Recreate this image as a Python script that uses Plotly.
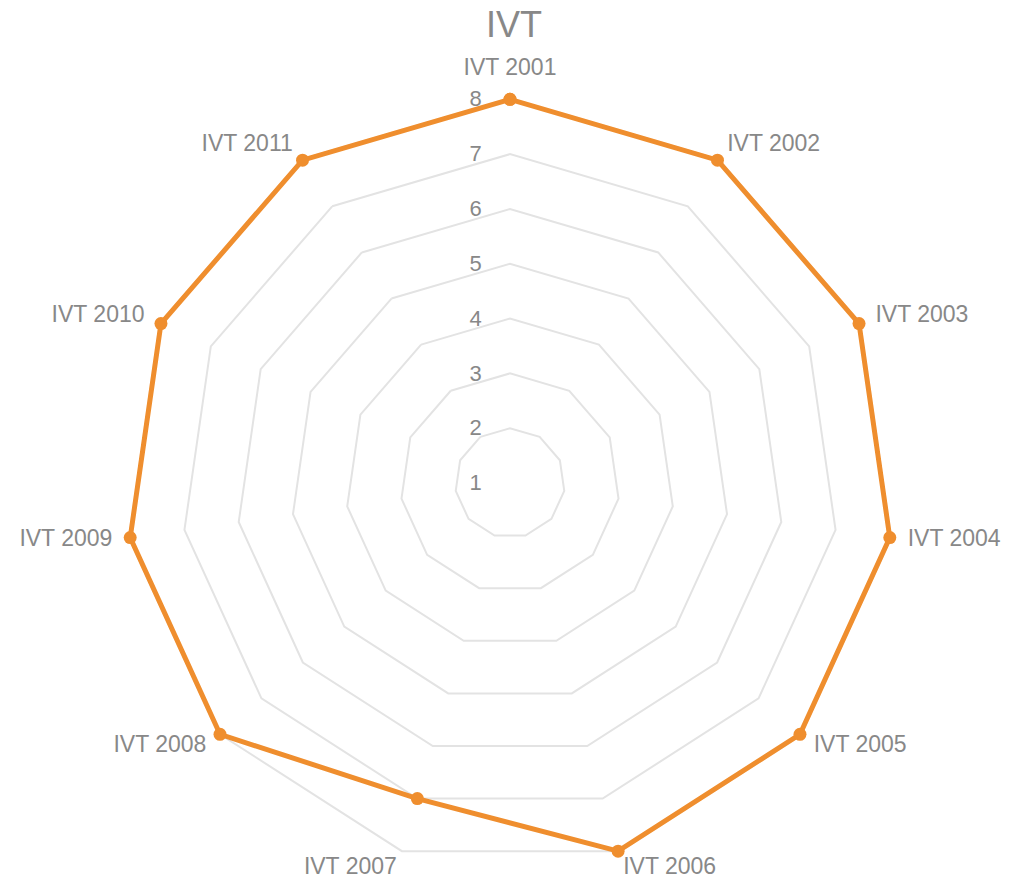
import plotly.graph_objects as go

categories = ["IVT 2001", "IVT 2002", "IVT 2003", "IVT 2004", "IVT 2005", "IVT 2006",
              "IVT 2007", "IVT 2008", "IVT 2009", "IVT 2010", "IVT 2011"]
values = [8, 8, 8, 8, 8, 8, 7, 8, 8, 8, 8]
radial_ticks = [1, 2, 3, 4, 5, 6, 7, 8]

# styling / layout constants
LABEL_R = 8.33
label_positions = ["top center"] + ["middle right"] * 5 + ["middle left"] * 5
font_color = "#888888"
orange = "#EF8E2E"
FONT = "Liberation Sans, Arial, sans-serif"
W, H = 1012, 881

fig = go.Figure()
fig.add_trace(go.Scatterpolar(
    r=values + values[:1],
    theta=categories + categories[:1],
    mode="lines+markers",
    line=dict(color=orange, width=5),
    marker=dict(color=orange, size=13),
    cliponaxis=False,
    showlegend=False,
    subplot="polar",
))
# category labels, drawn in an invisible, larger polar with the same scale
fig.add_trace(go.Scatterpolar(
    r=[LABEL_R] * len(categories),
    theta=categories,
    mode="text",
    text=categories,
    textposition=label_positions,
    textfont=dict(size=23, color=font_color, family=FONT),
    cliponaxis=False,
    hoverinfo="skip",
    showlegend=False,
    subplot="polar2",
))

# domain of main polar (pixels) and of label polar
c_x, c_y = 502, 475
d1, d2 = 774, 808
r1_max = 8.06
r2_max = 1 + (r1_max - 1) * d2 / d1


def dom(cx, cy, d):
    return dict(x=[(cx - d / 2) / W, (cx + d / 2) / W],
                y=[1 - (cy + d / 2) / H, 1 - (cy - d / 2) / H])


fig.update_layout(
    width=W, height=H,
    paper_bgcolor="white",
    plot_bgcolor="white",
    font=dict(family=FONT, color=font_color, size=22),
    title=dict(text="IVT", x=0.5, xanchor="center", y=1 - 4 / H, yanchor="top",
               font=dict(size=36, color=font_color)),
    margin=dict(l=0, r=0, t=0, b=0),
    polar=dict(
        domain=dom(c_x, c_y, d1),
        bgcolor="white",
        gridshape="linear",
        radialaxis=dict(
            range=[1, r1_max],
            tickvals=radial_ticks,
            angle=90,
            tickangle=90,
            side="counterclockwise",
            showline=False,
            gridcolor="#e3e3e3",
            gridwidth=1.5,
            ticks="outside",
            ticklen=20,
            tickcolor="rgba(0,0,0,0)",
            tickfont=dict(size=22, color=font_color),
        ),
        angularaxis=dict(
            direction="clockwise",
            rotation=90,
            showgrid=False,
            showline=False,
            showticklabels=False,
            ticks="",
        ),
    ),
    polar2=dict(
        domain=dom(c_x, c_y, d2),
        bgcolor="rgba(0,0,0,0)",
        gridshape="linear",
        radialaxis=dict(
            range=[1, r2_max],
            showgrid=False,
            showline=False,
            showticklabels=False,
            ticks="",
        ),
        angularaxis=dict(
            direction="clockwise",
            rotation=90,
            showgrid=False,
            showline=False,
            showticklabels=False,
            ticks="",
        ),
    ),
)

fig.write_html("out.html")
